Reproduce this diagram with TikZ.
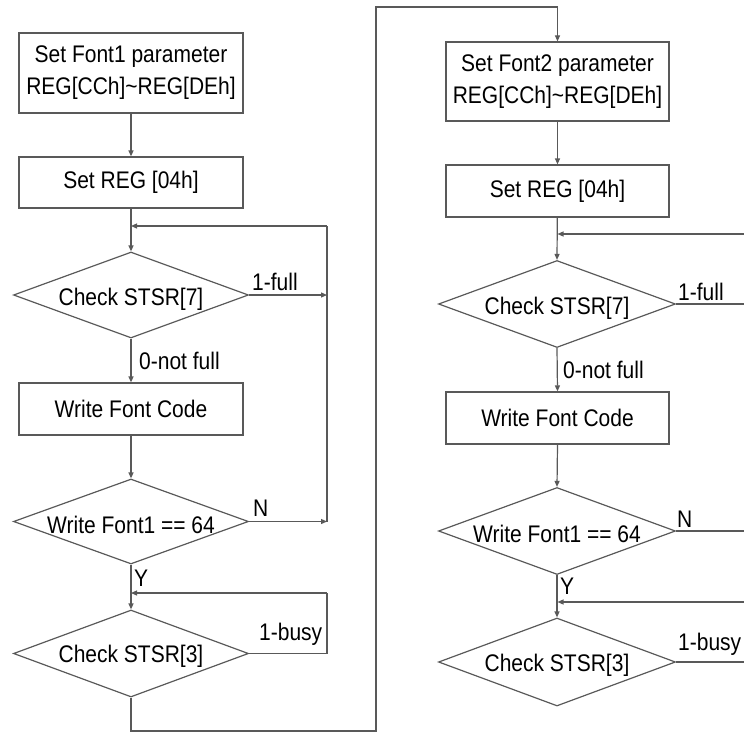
\documentclass[tikz,border=0pt]{standalone}
\usepackage{fontspec}
\setmainfont[FakeStretch=0.875]{Liberation Sans}
\usetikzlibrary{shapes.geometric,arrows.meta}
\begin{document}
\begin{tikzpicture}[x=1pt,y=-1pt,
  line/.style={draw=black!65, line width=1.2pt},
  arr/.style={line, -{Triangle[length=6pt,width=5pt]}},
  proc/.style={draw=black!65, line width=1.2pt, fill=white, rectangle, minimum width=224pt, inner sep=0pt, align=center, font=\fontsize{24}{32}\selectfont},
  dec/.style={draw=black!65, line width=1.2pt, diamond, minimum width=235pt, inner sep=0pt},
  txt/.style={font=\fontsize{24}{32}\selectfont, inner sep=0pt},
  lab/.style={font=\fontsize{24}{32}\selectfont, inner sep=0pt, anchor=base west}]
\useasboundingbox (0,0) rectangle (744,733);
\clip (0,0) rectangle (744,733);
% ---------- left column ----------
\node[proc, minimum height=80pt] (L1) at (131,73) {Set Font1 parameter\\REG[CCh]\textasciitilde REG[DEh]};
\node[proc, minimum height=51pt] (L2) at (131,182.5) {Set REG [04h]};
\node[dec, minimum height=86pt] (Ld1) at (131,295) {};
\node[txt] at ([yshift=-4pt]Ld1.center) {Check STSR[7]};
\node[proc, minimum height=52pt] (L3) at (131,409) {Write Font Code};
\node[dec, minimum height=85pt] (Ld2) at (131,521.5) {};
\node[txt] at ([yshift=-3pt]Ld2.center) {Write Font1 == 64};
\node[dec, minimum height=87pt] (Ld3) at (131,653.5) {};
\node[txt] at ([yshift=-3pt]Ld3.center) {Check STSR[3]};
\coordinate (a1) at (327,226);
\coordinate (a1m) at (131,226);
\coordinate (a2) at (327,295);
\coordinate (a3) at (327,521.5);
\coordinate (a4) at (327,653.5);
\coordinate (a5) at (327,593);
\coordinate (a5m) at (131,593);
\coordinate (b1) at (131,731);
\coordinate (b2) at (376,731);
\coordinate (b3) at (376,7);
\coordinate (b4) at (557.5,7);
\draw[arr] (L1) -- (L2);
\draw[arr] (L2) -- (Ld1.north);
\draw[arr] (Ld1.east) -- (a2);
\draw[line] (a1) -- (a3);
\draw[arr] (a1) -- (a1m);
\draw[arr] (Ld1.south) -- (L3.north);
\draw[arr] (L3.south) -- (Ld2.north);
\draw[arr] (Ld2.east) -- (a3);
\draw[arr] (Ld2.south) -- (Ld3.north);
\draw[line] (Ld3.east) -- (a4) -- (a5);
\draw[arr] (a5) -- (a5m);
\node[lab] at (252,290) {1-full};
\node[lab] at (139,369) {0-not full};
\node[lab] at (253,516) {N};
\node[lab] at (134,586) {Y};
\node[lab] at (259,640) {1-busy};
% ---------- right column ----------
\node[proc, minimum height=79pt, minimum width=223pt] (R1) at (557.5,81.5) {Set Font2 parameter\\REG[CCh]\textasciitilde REG[DEh]};
\node[proc, minimum height=52pt, minimum width=223pt] (R2) at (557.5,191) {Set REG [04h]};
\node[dec, minimum height=87pt, minimum width=237pt] (Rd1) at (557,304) {};
\node[txt] at ([yshift=-4pt]Rd1.center) {Check STSR[7]};
\node[proc, minimum height=52pt, minimum width=223pt] (R3) at (557.5,418) {Write Font Code};
\node[dec, minimum height=87pt, minimum width=237pt] (Rd2) at (557,531) {};
\node[txt] at ([yshift=-3pt]Rd2.center) {Write Font1 == 64};
\node[dec, minimum height=88pt, minimum width=237pt] (Rd3) at (557,662) {};
\node[txt] at ([yshift=-3pt]Rd3.center) {Check STSR[3]};
\coordinate (r1) at (760,234);
\coordinate (r1m) at (557.5,234);
\coordinate (r2) at (760,304);
\coordinate (r3) at (760,531);
\coordinate (r4) at (760,602);
\coordinate (r4m) at (557.5,602);
\coordinate (r5) at (760,662);
\draw[line] (Ld3.south) -- (b1) -- (b2) -- (b3) -- (b4);
\draw[arr] (b4) -- (R1.north);
\draw[arr] (R1) -- (R2);
\draw[arr] (R2) -- (Rd1.north);
\draw[arr] (r1) -- (r1m);
\draw[line] (Rd1.east) -- (r2);
\draw[arr] (Rd1.south) -- (R3.north);
\draw[arr] (R3.south) -- (Rd2.north);
\draw[line] (Rd2.east) -- (r3);
\draw[arr] (Rd2.south) -- (Rd3.north);
\draw[arr] (r4) -- (r4m);
\draw[line] (Rd3.east) -- (r5);
\node[lab] at (678,300) {1-full};
\node[lab] at (563,378) {0-not full};
\node[lab] at (677,527) {N};
\node[lab] at (560,594) {Y};
\node[lab] at (678,650) {1-busy};
\end{tikzpicture}
\end{document}
